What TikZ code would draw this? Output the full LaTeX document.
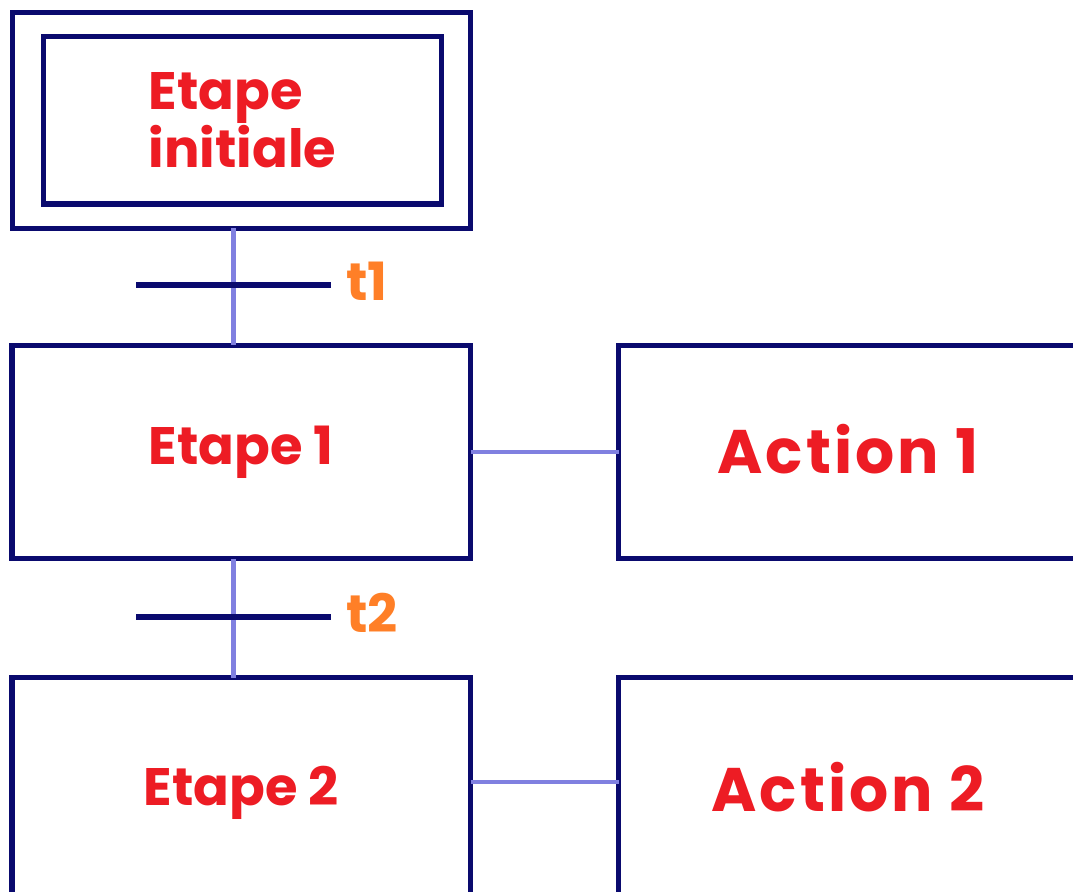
\documentclass[tikz,border=0pt]{standalone}
\usepackage{fontspec}
\setmainfont{Poppins}
\usetikzlibrary{positioning}
\definecolor{navy}{HTML}{0A0A6E}
\definecolor{linkblue}{HTML}{8080E0}
\definecolor{txtred}{HTML}{ED1C24}
\definecolor{txtorange}{HTML}{FF7F27}
\begin{document}
\begin{tikzpicture}[scale=1,inner sep=0pt,outer sep=0pt,
stepbox/.style={draw=navy,rectangle,line width=2.85pt,minimum width=9.17cm,minimum height=4.27cm,text=txtred,font=\fontsize{30}{33}\selectfont\bfseries},
actbox/.style={stepbox,font=\fontsize{35}{38}\selectfont\bfseries\addfontfeatures{LetterSpace=5}},
link/.style={draw=linkblue,line width=2.8pt},
bar/.style={fill=navy,rectangle,minimum width=3.9cm,minimum height=0.13cm},
cond/.style={text=txtorange,font=\fontsize{30}{33}\selectfont\bfseries}]
\clip (0,0) rectangle (21.46,-17.82);
\useasboundingbox (0,0) rectangle (21.46,-17.82);
\draw (4.83,-2.41) node[stepbox,minimum height=4.31cm] (init0) {};
\draw (4.85,-2.41) node[stepbox,minimum width=7.96cm,minimum height=3.34cm,align=left] (init) {Etape\\initiale};
\draw (4.825,-9.04) node[stepbox] (e1) {Etape 1};
\draw (16.96,-9.04) node[actbox] (a1) {\raisebox{0.12cm}{Action 1}};
\draw (4.825,-15.85) node[stepbox,minimum height=4.6cm] (e2) {\raisebox{0.11cm}{Etape 2}};
\draw (16.96,-15.85) node[actbox,minimum height=4.6cm] (a2) {\raisebox{0.22cm}{Action 2}};
\coordinate (c1) at (4.67,-5.7);
\coordinate (c2) at (4.67,-12.34);
\draw[link] (init0.south -| c1) -- (e1.north -| c1);
\draw[link] (e1.south -| c2) -- (e2.north -| c2);
\draw[link] (e1.east) -- (a1.west);
\draw[link] (e2.east |- 0,-15.64) -- (a2.west |- 0,-15.64);
\draw (c1) node[bar] (t1) {};
\draw (c2) node[bar] (t2) {};
\node[cond,right=0.3cm of t1,yshift=0.08cm] (t1l) {t1};
\node[cond,right=0.3cm of t2,yshift=0.08cm] (t2l) {t2};
\end{tikzpicture}
\end{document}
